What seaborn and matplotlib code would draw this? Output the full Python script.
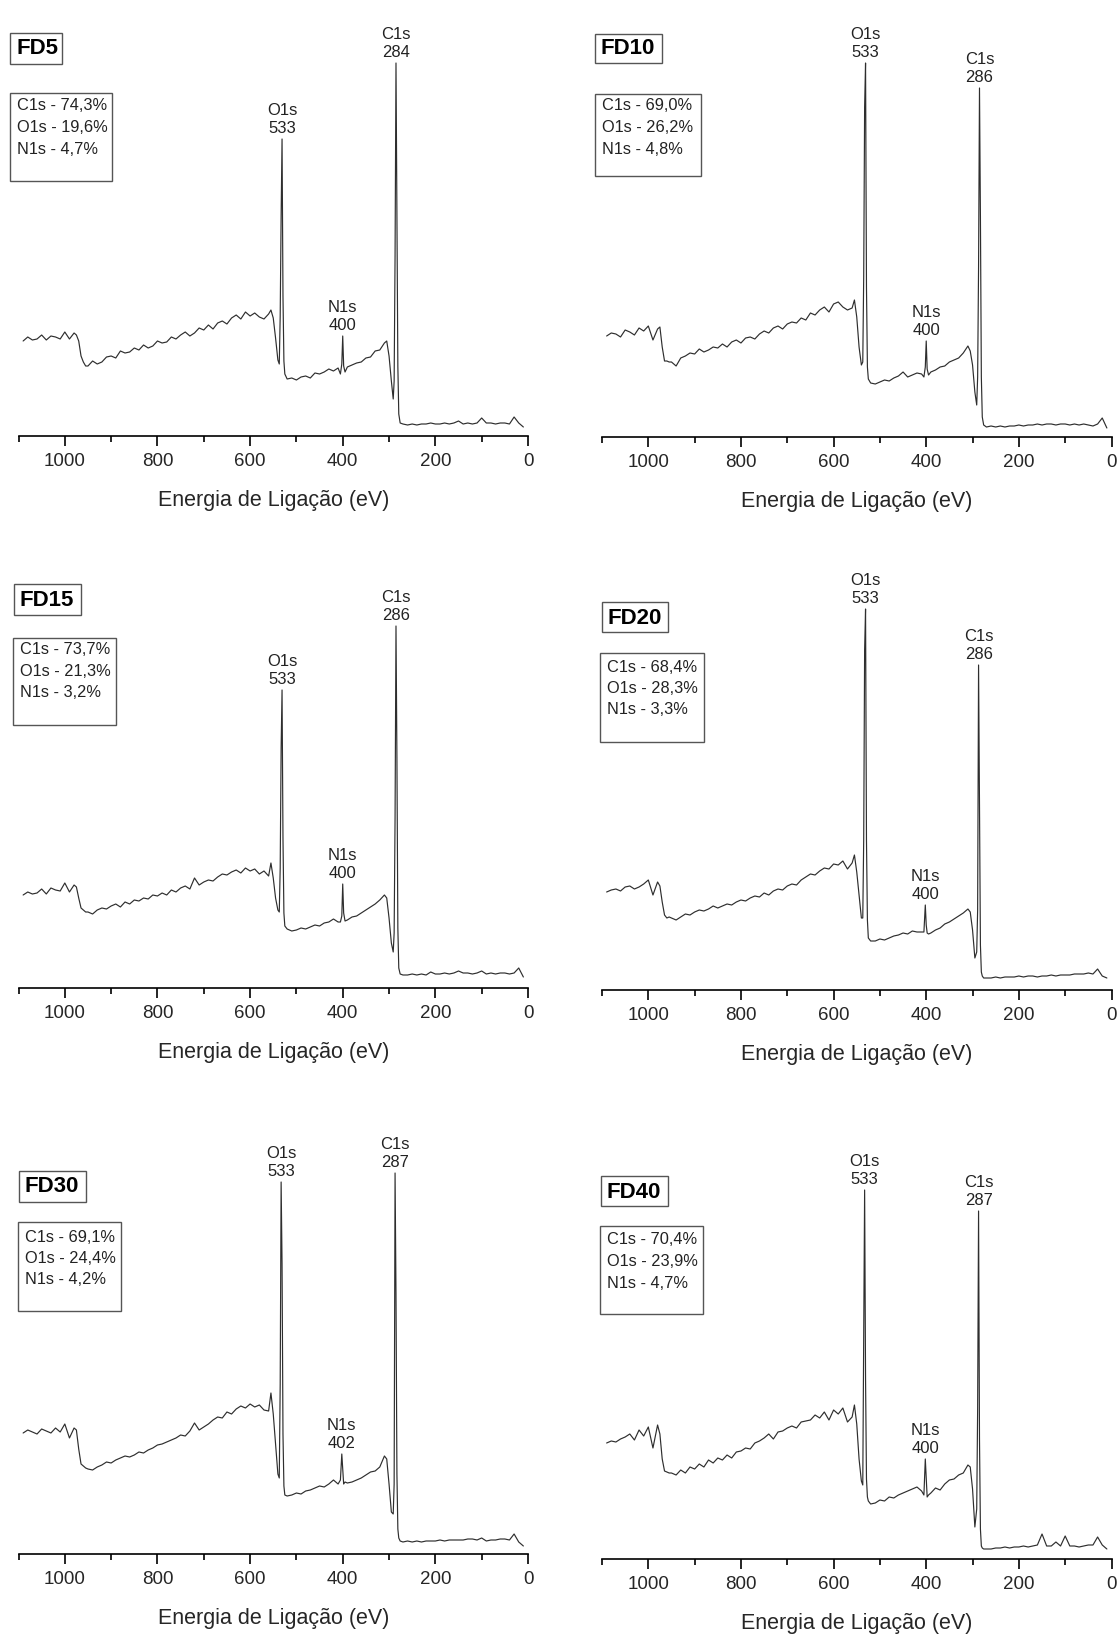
import numpy as np
import pandas as pd
import seaborn as sns
import matplotlib.pyplot as plt
from matplotlib.patches import Rectangle
from matplotlib.ticker import MultipleLocator

# binding energy grid (eV), shared by the six survey spectra
energy = np.concatenate([
    np.arange(1090, 979, -10),
    [975, 970, 965, 960, 955],
    np.arange(950, 559, -10),
    [555, 550, 545, 540, 537, 535, 533, 531, 529, 527, 525, 520],
    np.arange(510, 409, -10),
    [405, 402, 400, 398, 395],
    np.arange(390, 309, -10),
    [305, 300, 295, 291, 289, 287, 285, 283, 281, 279, 276],
    np.arange(270, 9, -10),
])

# intensities (a.u.)
fd5_counts = [
    95, 99, 96, 97, 101, 96, 100, 99, 97, 104, 97, 103, 101, 95, 80, 74, 70,
    70, 75, 72, 74, 79, 80, 78, 85, 83, 84, 88, 86, 91, 88, 90, 95, 93, 94, 99, 97,
    101, 104, 100, 103, 108, 106, 111, 107, 113, 115, 112, 118, 121, 117, 124, 120, 123, 119, 117, 122,
    126, 118, 98, 76, 72, 120, 220, 297, 140, 75, 62, 57,
    58, 56, 59, 60, 58, 63, 62, 64, 67, 65, 68,
    62, 72, 100, 70, 64,
    69, 71, 73, 74, 78, 79, 85, 86, 93,
    95, 80, 55, 37, 55, 180, 373, 230, 70, 22, 13,
    12, 11, 12, 11, 12, 12, 13, 12, 12, 13, 12, 13, 15, 12, 13, 12, 13, 18, 13, 13, 12, 13, 13, 12, 19, 13, 9,
]
fd10_counts = [
    101, 104, 103, 100, 107, 105, 102, 109, 106, 111, 97, 108, 110, 90, 76, 76, 75,
    75, 71, 79, 81, 84, 83, 88, 85, 87, 90, 89, 93, 90, 95, 97, 94, 99, 100, 98, 103,
    106, 104, 109, 111, 108, 113, 115, 114, 119, 117, 124, 122, 127, 130, 125, 133, 135, 130, 127, 129,
    137, 120, 90, 72, 75, 160, 330, 374, 150, 70, 58, 54,
    53, 55, 57, 56, 59, 61, 65, 60, 62, 64, 63,
    60, 70, 96, 68, 62,
    65, 67, 70, 71, 75, 77, 79, 84, 91,
    86, 72, 45, 32, 60, 170, 349, 220, 60, 20, 12,
    10, 11, 10, 11, 10, 11, 11, 12, 11, 12, 12, 13, 12, 13, 13, 12, 13, 13, 12, 13, 12, 13, 12, 11, 13, 19, 9,
]
fd15_counts = [
    93, 96, 94, 95, 99, 94, 100, 98, 97, 105, 96, 103, 101, 90, 80, 78, 76,
    76, 74, 78, 80, 79, 82, 84, 81, 86, 84, 88, 87, 90, 89, 93, 92, 95, 93, 98, 96,
    100, 102, 99, 110, 103, 106, 108, 107, 111, 114, 113, 116, 118, 115, 120, 117, 119, 114, 117, 112,
    125, 110, 90, 78, 76, 120, 240, 298, 150, 75, 62, 59,
    57, 58, 60, 59, 61, 63, 62, 65, 66, 69, 66,
    66, 72, 104, 75, 67,
    68, 71, 72, 75, 78, 81, 84, 88, 93,
    90, 70, 45, 36, 55, 170, 362, 230, 60, 20, 14,
    13, 13, 14, 13, 14, 13, 16, 14, 14, 15, 14, 15, 17, 15, 15, 14, 15, 17, 14, 15, 14, 15, 15, 14, 15, 20, 11,
]
fd20_counts = [
    98, 100, 101, 99, 103, 104, 101, 103, 106, 110, 95, 108, 104, 88, 75, 72, 73,
    72, 70, 73, 76, 75, 78, 80, 79, 81, 84, 82, 84, 86, 85, 88, 90, 89, 92, 94, 93,
    97, 95, 99, 101, 100, 104, 106, 105, 110, 113, 116, 115, 119, 122, 121, 126, 125, 129, 121, 127,
    135, 118, 95, 72, 72, 150, 340, 381, 150, 70, 52, 49,
    49, 51, 50, 52, 54, 55, 57, 56, 59, 58, 58,
    58, 85, 65, 57, 56,
    57, 60, 62, 66, 68, 71, 74, 77, 81,
    78, 60, 32, 38, 80, 325, 180, 45, 18, 14, 12,
    12, 12, 13, 12, 13, 13, 13, 14, 13, 14, 14, 13, 14, 14, 15, 14, 15, 15, 15, 16, 16, 16, 17, 16, 21, 14, 12,
]
fd30_counts = [
    121, 124, 122, 120, 125, 123, 121, 126, 122, 130, 116, 126, 124, 105, 90, 88, 86,
    85, 84, 87, 89, 92, 91, 94, 96, 98, 97, 99, 102, 101, 104, 106, 109, 110, 112, 114, 116,
    119, 118, 123, 131, 124, 127, 130, 134, 137, 136, 142, 140, 145, 148, 146, 150, 147, 149, 144, 143,
    161, 140, 110, 80, 76, 170, 372, 290, 120, 68, 59, 58,
    59, 61, 60, 63, 64, 66, 68, 67, 70, 74, 70,
    74, 100, 85, 70, 72,
    71, 72, 74, 76, 79, 82, 83, 87, 98,
    95, 70, 42, 40, 70, 381, 260, 80, 25, 16, 13,
    12, 13, 12, 13, 12, 13, 13, 13, 14, 13, 14, 14, 14, 14, 15, 15, 14, 16, 13, 14, 14, 15, 15, 14, 20, 12, 8,
]
fd40_counts = [
    116, 118, 117, 120, 122, 125, 119, 129, 123, 132, 111, 134, 125, 100, 88, 87, 86,
    86, 84, 89, 86, 92, 90, 95, 92, 99, 96, 101, 99, 104, 101, 107, 108, 111, 110, 116, 118,
    121, 125, 120, 127, 128, 131, 133, 131, 137, 138, 139, 144, 141, 147, 139, 149, 145, 151, 137, 142,
    154, 135, 100, 78, 74, 220, 369, 180, 80, 62, 58, 55,
    56, 59, 58, 62, 61, 64, 66, 68, 70, 72, 68,
    64, 100, 80, 62, 64,
    66, 71, 69, 75, 79, 80, 84, 86, 94,
    92, 70, 32, 50, 150, 348, 120, 30, 13, 11, 10,
    10, 10, 11, 11, 12, 11, 12, 12, 13, 12, 13, 14, 25, 13, 13, 17, 13, 23, 13, 13, 12, 13, 14, 14, 22, 14, 10,
]

samples = ["FD5", "FD10", "FD15", "FD20", "FD30", "FD40"]

# peak annotations (name, position label in eV)
fd5_peaks = [("C1s", 284), ("O1s", 533), ("N1s", 400)]
fd10_peaks = [("O1s", 533), ("C1s", 286), ("N1s", 400)]
fd15_peaks = [("C1s", 286), ("O1s", 533), ("N1s", 400)]
fd20_peaks = [("O1s", 533), ("C1s", 286), ("N1s", 400)]
fd30_peaks = [("O1s", 533), ("C1s", 287), ("N1s", 402)]
fd40_peaks = [("O1s", 533), ("C1s", 287), ("N1s", 400)]

# atomic composition (%)
c1s_pct = ["74,3", "69,0", "73,7", "68,4", "69,1", "70,4"]
o1s_pct = ["19,6", "26,2", "21,3", "28,3", "24,4", "23,9"]
n1s_pct = ["4,7", "4,8", "3,2", "3,3", "4,2", "4,7"]

counts = [fd5_counts, fd10_counts, fd15_counts, fd20_counts, fd30_counts, fd40_counts]
peaks = [fd5_peaks, fd10_peaks, fd15_peaks, fd20_peaks, fd30_peaks, fd40_peaks]

sns.set_theme(style="white")
plt.rcParams['font.family'] = ['Liberation Sans', 'DejaVu Sans']

W, H = 1118, 1639
fig = plt.figure(figsize=(W / 100, H / 100), dpi=100)

# layout in pixels: axes left/right, axis line y, title box, composition box, text anchors
layout = [
    dict(x0=18.5, x1=528, ay=436, tb=(10, 33, 62, 64), tc=(37, 49), cb=(10, 93, 112, 181), ct=(17, 106)),
    dict(x0=602, x1=1111.5, ay=437, tb=(595, 34, 662, 63), tc=(628, 49), cb=(595, 94, 701, 176), ct=(602, 106)),
    dict(x0=18.5, x1=528, ay=988, tb=(14, 584, 81, 615), tc=(47, 600), cb=(13, 638, 116, 725), ct=(20, 650)),
    dict(x0=602, x1=1111.5, ay=990, tb=(602, 602, 668, 632), tc=(635, 618), cb=(600, 653, 704, 742), ct=(607, 667)),
    dict(x0=18.5, x1=528, ay=1554, tb=(19, 1171, 86, 1202), tc=(52, 1187), cb=(18, 1222, 121, 1311), ct=(25, 1237)),
    dict(x0=602, x1=1111.5, ay=1559, tb=(601, 1176, 668, 1206), tc=(634, 1192), cb=(600, 1226, 703, 1314), ct=(607, 1240)),
]

line_col = '#2e2e2e'
box_col = '#555555'


def fx(x):
    return x / W


def fy(y):
    return 1 - y / H


def add_box(x0, y0, x1, y1):
    fig.patches.append(Rectangle((fx(x0), fy(y1)), (x1 - x0) / W, (y1 - y0) / H,
                                 transform=fig.transFigure, fill=False,
                                 edgecolor=box_col, linewidth=1.0))


for i, name in enumerate(samples):
    lay = layout[i]
    ax = fig.add_axes([fx(lay['x0']), fy(lay['ay']), (lay['x1'] - lay['x0']) / W, 420 / H])
    df = pd.DataFrame({'energy': energy, 'counts': counts[i]})
    sns.lineplot(data=df, x='energy', y='counts', ax=ax, color=line_col,
                 linewidth=0.85, estimator=None, sort=False)
    ax.set_xlim(1100, 0)
    ax.set_ylim(0, 420)
    for s in ['left', 'top', 'right']:
        ax.spines[s].set_visible(False)
    ax.spines['bottom'].set_color('black')
    ax.spines['bottom'].set_linewidth(1.2)
    ax.set_yticks([])
    ax.set_ylabel('')
    ax.xaxis.set_major_locator(MultipleLocator(200))
    ax.xaxis.set_minor_locator(MultipleLocator(100))
    ax.tick_params(axis='x', which='major', direction='out', length=7, width=1.2,
                   color='black', labelsize=13.5, pad=5.5, bottom=True)
    ax.tick_params(axis='x', which='minor', direction='out', length=4, width=1.2,
                   color='black', bottom=True)
    ax.set_xlabel('Energia de Ligação (eV)', fontsize=15.5, labelpad=14)
    ax.patch.set_alpha(0)

    # peak labels above each peak maximum
    e = np.asarray(energy)
    c = np.asarray(counts[i])
    for pname, pos in peaks[i]:
        win = np.where(np.abs(e - pos) <= 8)[0]
        k = win[np.argmax(c[win])]
        ax.annotate(f"{pname}\n{pos}", xy=(e[k], c[k]), xytext=(0, 2.5),
                    textcoords='offset points', ha='center', va='bottom',
                    fontsize=12, linespacing=1.25, color='#222222')

    # sample tag and composition boxes
    add_box(*lay['tb'])
    fig.text(fx(lay['tc'][0]), fy(lay['tc'][1]), name, ha='center', va='center',
             fontsize=16, fontweight='bold', color='black')
    add_box(*lay['cb'])
    comp = [f"C1s - {c1s_pct[i]}%", f"O1s - {o1s_pct[i]}%", f"N1s - {n1s_pct[i]}%"]
    for j, txt in enumerate(comp):
        fig.text(fx(lay['ct'][0]), fy(lay['ct'][1] + 21.5 * j), txt, ha='left', va='center',
                 fontsize=11.8, color='#222222')

fig.savefig('out.png', dpi=100, facecolor='white')
